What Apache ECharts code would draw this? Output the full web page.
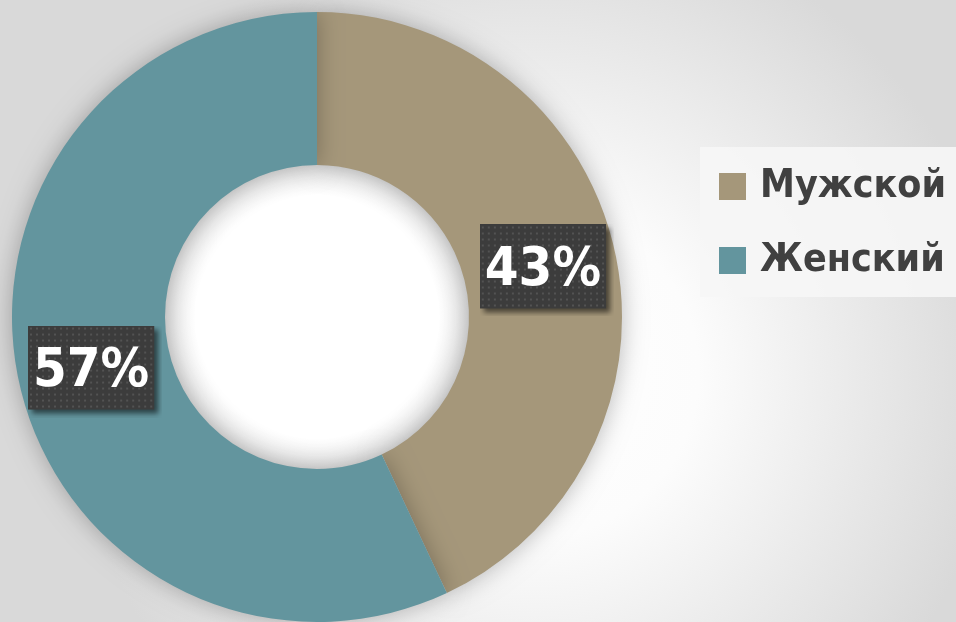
<!DOCTYPE html>
<html>
<head>
<meta charset="utf-8">
<script src="https://cdn.jsdelivr.net/npm/echarts@6/dist/echarts.min.js"></script>
<style>
html,body{margin:0;padding:0;width:956px;height:622px;overflow:hidden;}
#c{width:956px;height:622px;}
</style>
</head>
<body>
<div id="c"></div>
<script>
const categories = ['Мужской', 'Женский'];
const values = [43, 57];
const colors = ['#a5977a', '#63959e'];

// label box background: dotted dark plate with a drop shadow to the lower right
function plateCanvas(w, h, m) {
  const cv = document.createElement('canvas');
  cv.width = w + m; cv.height = h + m;
  const ctx = cv.getContext('2d');
  ctx.save();
  ctx.shadowColor = 'rgba(0,0,0,0.55)';
  ctx.shadowBlur = 5;
  ctx.shadowOffsetX = 4;
  ctx.shadowOffsetY = 4;
  ctx.fillStyle = '#3c3c3c';
  ctx.fillRect(0, 0, w, h);
  ctx.restore();
  ctx.fillStyle = '#535353';
  for (let y = 2; y < h - 1; y += 6) {
    for (let x = 2; x < w - 1; x += 6) {
      ctx.fillRect(x, y, 2, 2);
    }
  }
  return cv;
}
const M = 8;
const plate = plateCanvas(126, 84, M);

const chart = echarts.init(document.getElementById('c'));
const font = '"DejaVu Sans Condensed", "DejaVu Sans", sans-serif';
chart.setOption({
  backgroundColor: {
    type: 'radial', x: 0.56, y: 0.6, r: 0.75,
    colorStops: [
      {offset: 0, color: '#ffffff'},
      {offset: 0.35, color: '#fcfcfc'},
      {offset: 1, color: '#d9d9d9'}
    ]
  },
  graphic: [{
    type: 'circle',
    z: -1,
    silent: true,
    shape: {cx: 317, cy: 317, r: 153},
    style: {
      fill: {
        type: 'radial', x: 0.5, y: 0.5, r: 0.5,
        colorStops: [
          {offset: 0, color: '#ffffff'},
          {offset: 0.8, color: '#ffffff'},
          {offset: 1, color: '#e6e6e6'}
        ]
      }
    }
  }],
  legend: {
    orient: 'vertical',
    left: 700,
    top: 147,
    padding: [20, 40, 17, 19],
    itemGap: 35,
    itemWidth: 27,
    itemHeight: 27,
    icon: 'rect',
    backgroundColor: 'rgba(246,246,246,0.9)',
    textStyle: {
      fontFamily: font,
      fontWeight: 'bold',
      fontSize: 39,
      lineHeight: 38,
      color: '#404040',
      padding: [0, 0, 0, 9]
    },
    data: categories
  },
  series: [{
    type: 'pie',
    center: [317, 317],
    radius: [152, 305],
    startAngle: 90,
    clockwise: true,
    silent: true,
    label: {
      show: true,
      position: 'inside',
      formatter: '{d}%',
      fontFamily: font,
      fontWeight: 'bold',
      fontSize: 54,
      lineHeight: 60,
      color: '#ffffff',
      backgroundColor: {image: plate},
      padding: [12, 5 + M, 12 + M, 5],
      offset: [M / 2, M / 2]
    },
    labelLine: {show: false},
    itemStyle: {
      shadowColor: 'rgba(0,0,0,0.28)',
      shadowBlur: 25,
      shadowOffsetX: 0,
      shadowOffsetY: 0
    },
    data: categories.map((n, i) => ({name: n, value: values[i], itemStyle: {color: colors[i]}}))
  }]
});
</script>
</body>
</html>
